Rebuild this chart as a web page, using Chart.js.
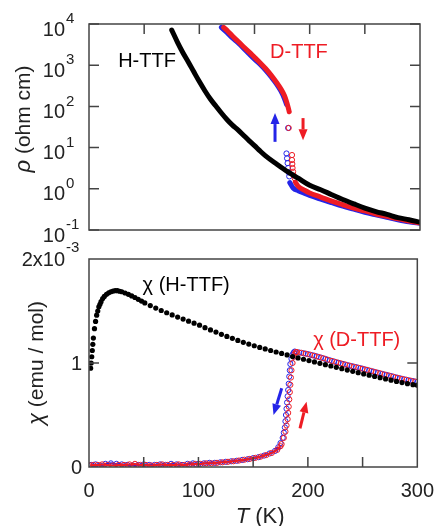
<!DOCTYPE html>
<html>
<head>
<meta charset="utf-8">
<script src="https://cdn.jsdelivr.net/npm/chart.js@4.4.1/dist/chart.umd.min.js"></script>
<style>
  body { margin: 0; background: #fff; }
  #wrap { position: relative; width: 438px; height: 526px; }
  #rhoBox { position: absolute; left: 0; top: 0; }
  #chiBox { position: absolute; left: 0; top: 240px; }
</style>
</head>
<body>
<div id="wrap">
  <div id="rhoBox"><canvas id="rhoChart" width="438" height="250"></canvas></div>
  <div id="chiBox"><canvas id="chiChart" width="438" height="286"></canvas></div>
</div>
<script>
const FONT = "'Liberation Sans', Arial, sans-serif";
const AXIS = "#444";
const TEXT = "#222";
const RED = "#ee1c24";
const BLUE = "#2424e8";

// ===== TICKS =====
const tempTicks = [0, 100, 200, 300];
const tempMinor = [50, 100, 150, 200, 250];
const rhoTicks = [0.1, 1, 10, 100, 1000, 10000];
const rhoTickExp = ["-1", "0", "1", "2", "3", "4"];
const chiTicks = [0, 1, 2];
const chiTickText = ["0", "1", "2x10"];

// ===== RESISTIVITY (ohm cm) =====
// H-TTF
const hT   = [75, 80, 85, 90, 95, 100, 105, 110, 115, 120, 125, 130, 135, 140, 145, 150, 155, 160, 170, 180, 190, 200, 210, 220, 230, 240, 250, 260, 270, 280, 290, 300];
const hRho = [7100, 3700, 2040, 1200, 690, 400, 240, 151, 102, 69, 48, 35, 27, 20, 14.8, 11.2, 8.3, 6.3, 4.0, 2.6, 1.78, 1.22, 0.95, 0.72, 0.55, 0.43, 0.34, 0.28, 0.24, 0.20, 0.178, 0.155];

// D-TTF heating (red)
const heatUpT    = [122, 126, 130, 135, 140, 145, 150, 155, 160, 165, 170, 174, 177, 179, 180.5, 181.5];
const heatUpRho  = [8300, 6600, 5100, 3800, 2800, 2100, 1550, 1150, 830, 575, 380, 263, 186, 132, 95, 74];
const heatJumpT   = [181, 184, 184, 184.3, 184.5, 185, 185.5, 186.5];
const heatJumpRho = [30, 6.6, 5.0, 4.0, 3.2, 2.6, 2.1, 1.8];
const heatLowT   = [187, 190, 195, 200, 210, 220, 230, 240, 250, 260, 270, 280, 290, 300];
const heatLowRho = [1.45, 1.12, 0.93, 0.79, 0.63, 0.50, 0.41, 0.34, 0.29, 0.245, 0.214, 0.186, 0.166, 0.148];

// D-TTF cooling (blue)
const coolUpT    = [120, 125, 130, 135, 140, 145, 150, 155, 160, 165, 170, 174, 177, 179];
const coolUpRho  = [8300, 6200, 4600, 3500, 2600, 1900, 1400, 1050, 760, 525, 350, 235, 158, 112];
const coolJumpT   = [180.5, 179, 179.5, 180, 180.5, 181, 181.5];
const coolJumpRho = [30, 7.2, 5.5, 4.2, 3.2, 2.5, 2.0];
const coolLowT   = [182, 185, 190, 195, 200, 210, 220, 230, 240, 250, 260, 270, 280, 290, 300];
const coolLowRho = [1.41, 1.05, 0.89, 0.78, 0.69, 0.56, 0.46, 0.38, 0.32, 0.27, 0.234, 0.204, 0.178, 0.158, 0.145];

// ===== SUSCEPTIBILITY (x 10^-3 emu/mol) =====
const chiHT = [1.5, 2, 2.5, 3, 3.5, 4, 5, 6, 7, 8, 9, 10, 11, 12.5, 14, 16, 18, 20, 22, 24, 26, 28, 30, 33, 36, 39, 42, 45, 48, 51,
  56, 61, 66, 71, 76, 81, 86, 91, 96, 101, 106, 111, 116, 121, 126, 131, 136, 141, 146, 151, 156, 161, 166, 171, 176, 181, 186, 191, 196,
  201, 206, 211, 216, 221, 226, 231, 236, 241, 246, 251, 256, 261, 266, 271, 276, 281, 286, 291, 296, 300];
const chiH = [0.95, 1.0, 1.06, 1.12, 1.18, 1.24, 1.33, 1.40, 1.46, 1.50, 1.54, 1.565, 1.59, 1.62, 1.64, 1.66, 1.675, 1.685, 1.692, 1.695, 1.695, 1.69, 1.685, 1.673, 1.66, 1.645, 1.63, 1.612, 1.595, 1.578,
  1.552, 1.528, 1.505, 1.483, 1.462, 1.442, 1.422, 1.402, 1.383, 1.364, 1.34, 1.318, 1.297, 1.276, 1.256, 1.237, 1.217, 1.199, 1.182, 1.166, 1.15, 1.135, 1.12, 1.106, 1.092, 1.078, 1.062, 1.049, 1.036,
  1.023, 1.010, 0.997, 0.984, 0.971, 0.958, 0.945, 0.932, 0.920, 0.907, 0.895, 0.883, 0.871, 0.859, 0.847, 0.835, 0.823, 0.812, 0.801, 0.792, 0.787];

// D-TTF cooling (blue): low-T branch, then transition + high-T
const chiCoolBaseT = [2, 6, 10, 15, 20, 25, 30, 35, 40, 45, 50, 55, 60, 65, 70, 75, 80, 85, 90, 95, 100, 105, 110, 115, 120, 125, 130, 135, 140, 145, 150, 155, 160, 165, 170, 173];
const chiCoolBase  = [0.02, 0.025, 0.015, 0.03, 0.035, 0.03, 0.025, 0.02, 0.015, 0.02, 0.025, 0.02, 0.02, 0.025, 0.02, 0.03, 0.025, 0.02, 0.03, 0.035, 0.03, 0.035, 0.04, 0.04, 0.045, 0.05, 0.055, 0.06, 0.068, 0.075, 0.085, 0.095, 0.11, 0.13, 0.155, 0.19];
const chiCoolT = [175, 177, 178, 179, 179.5, 180, 180.5, 181, 181.5, 182, 182.5, 183, 183.5, 184, 185, 186, 187, 188,
  192, 196, 200, 204, 208, 212, 216, 220, 224, 228, 232, 236, 240, 244, 248, 252, 256, 260, 264, 268, 272, 276, 280, 284, 288, 292, 296, 300];
const chiCool  = [0.23, 0.28, 0.33, 0.38, 0.44, 0.50, 0.56, 0.62, 0.68, 0.74, 0.80, 0.87, 0.93, 0.99, 1.04, 1.08, 1.10, 1.11,
  1.101, 1.094, 1.085, 1.075, 1.064, 1.052, 1.039, 1.026, 1.014, 1.002, 0.991, 0.980, 0.970, 0.960, 0.950, 0.939, 0.928, 0.917, 0.906, 0.895, 0.885, 0.874, 0.863, 0.853, 0.843, 0.834, 0.826, 0.818];

// D-TTF heating (red)
const chiHeatBaseT = [1, 4, 8, 12, 17, 22, 27, 32, 37, 42, 47, 52, 57, 62, 67, 72, 77, 82, 87, 92, 97, 102, 107, 112, 117, 122, 127, 132, 137, 142, 147, 152, 157, 162, 167, 172, 175];
const chiHeatBase  = [0.015, 0.02, 0.02, 0.025, 0.02, 0.015, 0.02, 0.02, 0.025, 0.03, 0.02, 0.02, 0.015, 0.02, 0.025, 0.02, 0.02, 0.025, 0.02, 0.025, 0.03, 0.03, 0.035, 0.035, 0.04, 0.045, 0.05, 0.055, 0.062, 0.07, 0.078, 0.088, 0.1, 0.115, 0.135, 0.165, 0.2];
const chiHeatT = [176, 178, 179.5, 180.5, 181.5, 182, 182.5, 183, 183.5, 184, 184.5, 185, 186, 187, 188, 189,
  190, 194, 198, 202, 206, 210, 214, 218, 222, 226, 230, 234, 238, 242, 246, 250, 254, 258, 262, 266, 270, 274, 278, 282, 286, 290, 294, 298];
const chiHeat  = [0.22, 0.28, 0.34, 0.40, 0.46, 0.52, 0.58, 0.65, 0.72, 0.79, 0.86, 0.93, 1.0, 1.06, 1.09, 1.105,
  1.105, 1.098, 1.09, 1.08, 1.07, 1.058, 1.046, 1.032, 1.02, 1.008, 0.997, 0.986, 0.975, 0.965, 0.955, 0.945, 0.934, 0.923, 0.912, 0.901, 0.89, 0.88, 0.869, 0.858, 0.848, 0.839, 0.83, 0.822];

function pair(xs, ys) { return xs.map((x, i) => ({ x: x, y: ys[i] })); }

function lineSet(xs, ys, color, width) {
  return { data: pair(xs, ys), showLine: true, borderColor: color, borderWidth: width, borderCapStyle: "round",
           pointRadius: 0, cubicInterpolationMode: "monotone" };
}
function ringSet(xs, ys, color, withLine) {
  return { data: pair(xs, ys), showLine: !!withLine, borderColor: color, borderWidth: 2, pointRadius: 2.6, pointBorderWidth: 1,
           pointBorderColor: color, pointBackgroundColor: "rgba(0,0,0,0)", cubicInterpolationMode: "monotone" };
}

// frame, inward ticks, tick labels, titles, notes, arrows
const panelDeco = {
  id: "panelDeco",
  afterDatasetsDraw(chart, args, o) {
    const { ctx, chartArea: a, scales } = chart;
    const xs = scales.x, ys = scales.y;
    ctx.save();
    ctx.strokeStyle = AXIS;
    ctx.lineWidth = 1.5;
    ctx.strokeRect(a.left, a.top, a.right - a.left, a.bottom - a.top);
    ctx.beginPath();
    o.yMarks.forEach(v => {
      const y = ys.getPixelForValue(v);
      ctx.moveTo(a.left, y); ctx.lineTo(a.left + 10, y);
      ctx.moveTo(a.right, y); ctx.lineTo(a.right - 10, y);
    });
    const edge = o.xSide === "top" ? a.top : a.bottom;
    const dir = o.xSide === "top" ? 1 : -1;
    o.xMarks.forEach(v => {
      const x = xs.getPixelForValue(v);
      ctx.moveTo(x, edge); ctx.lineTo(x, edge + dir * 10);
    });
    ctx.stroke();

    // y tick labels
    ctx.fillStyle = TEXT;
    ctx.textBaseline = "middle";
    o.yLabels.forEach(l => {
      const y = ys.getPixelForValue(l.v);
      ctx.font = "20px " + FONT;
      if (l.sup) {
        ctx.textAlign = "right";
        ctx.fillText(l.base, a.left - 24, y + o.baseDy);
        ctx.textAlign = "left";
        ctx.font = "15px " + FONT;
        ctx.fillText(l.sup, a.left - 23, y + o.supDy);
      } else {
        ctx.textAlign = "right";
        ctx.fillText(l.base, a.left - 7, y + 1);
      }
    });

    // y title (greek italic)
    ctx.save();
    ctx.translate(o.yTitle.x, (a.top + a.bottom) / 2 + o.yTitle.dy);
    ctx.rotate(-Math.PI / 2);
    ctx.font = "italic 22px " + FONT;
    const w1 = ctx.measureText(o.yTitle.sym).width;
    ctx.font = "21px " + FONT;
    const w2 = ctx.measureText(o.yTitle.rest).width;
    ctx.textAlign = "left";
    ctx.font = "italic 22px " + FONT;
    ctx.fillText(o.yTitle.sym, -(w1 + w2) / 2, 0);
    ctx.font = "21px " + FONT;
    ctx.fillText(o.yTitle.rest, -(w1 + w2) / 2 + w1, 0);
    ctx.restore();

    // x title
    if (o.xTitle) {
      ctx.font = "italic 22px " + FONT;
      const t1 = ctx.measureText("T").width;
      ctx.font = "22px " + FONT;
      const t2 = ctx.measureText(" (K)").width;
      const cx = (a.left + a.right) / 2 + 7;
      const ty = a.bottom + 50;
      ctx.textAlign = "left";
      ctx.font = "italic 22px " + FONT;
      ctx.fillText("T", cx - (t1 + t2) / 2, ty);
      ctx.font = "22px " + FONT;
      ctx.fillText(" (K)", cx - (t1 + t2) / 2 + t1, ty);
    }

    // notes
    o.notes.forEach(n => {
      ctx.font = "20px " + FONT;
      ctx.fillStyle = n.color;
      ctx.textAlign = n.align;
      ctx.fillText(n.text, xs.getPixelForValue(n.x), ys.getPixelForValue(n.y));
    });

    // arrows
    o.arrows.forEach(r => {
      const x0 = xs.getPixelForValue(r.from[0]), y0 = ys.getPixelForValue(r.from[1]);
      const x1 = xs.getPixelForValue(r.to[0]), y1 = ys.getPixelForValue(r.to[1]);
      const ang = Math.atan2(y1 - y0, x1 - x0);
      const hl = 11, hw = 4.5;
      const bx = x1 - hl * Math.cos(ang), by = y1 - hl * Math.sin(ang);
      ctx.strokeStyle = r.color;
      ctx.fillStyle = r.color;
      ctx.lineWidth = 3;
      ctx.beginPath(); ctx.moveTo(x0, y0); ctx.lineTo(bx, by); ctx.stroke();
      ctx.beginPath();
      ctx.moveTo(x1, y1);
      ctx.lineTo(bx + hw * Math.sin(ang), by - hw * Math.cos(ang));
      ctx.lineTo(bx - hw * Math.sin(ang), by + hw * Math.cos(ang));
      ctx.closePath(); ctx.fill();
    });
    ctx.restore();
  }
};

// ===== TOP: RESISTIVITY =====
new Chart(document.getElementById("rhoChart"), {
  type: "scatter",
  data: {
    datasets: [
      lineSet(hT, hRho, "#000", 5),
      lineSet(heatUpT, heatUpRho, RED, 5),
      ringSet(heatJumpT, heatJumpRho, RED),
      lineSet(heatLowT, heatLowRho, RED, 5),
      lineSet(coolUpT, coolUpRho, BLUE, 5),
      ringSet(coolJumpT, coolJumpRho, BLUE),
      lineSet(coolLowT, coolLowRho, BLUE, 5)
    ]
  },
  options: {
    responsive: false,
    animation: false,
    events: [],
    layout: { padding: { left: 89, right: 18, top: 24, bottom: 20 } },
    scales: {
      x: { display: false, min: 0, max: 300 },
      y: { display: false, type: "logarithmic", min: 0.1, max: 10000 }
    },
    plugins: {
      legend: { display: false },
      tooltip: { enabled: false },
      panelDeco: {
        xSide: "top",
        xMarks: tempMinor,
        yMarks: rhoTicks,
        baseDy: 6, supDy: -5,
        yLabels: rhoTicks.map((v, i) => ({ v: v, base: "10", sup: rhoTickExp[i] })),
        yTitle: { x: 24, dy: -8, sym: "ρ", rest: " (ohm cm)" },
        notes: [
          { text: "H-TTF", x: 52.6, y: 1200, color: "#000", align: "center" },
          { text: "D-TTF", x: 190.3, y: 2000, color: RED, align: "center" }
        ],
        arrows: [
          { from: [168.6, 13.8], to: [168.6, 69], color: BLUE },
          { from: [194, 52], to: [194, 15], color: RED }
        ]
      }
    }
  },
  plugins: [panelDeco]
});

// ===== BOTTOM: SUSCEPTIBILITY =====
new Chart(document.getElementById("chiChart"), {
  type: "scatter",
  data: {
    datasets: [
      { data: pair(chiHT, chiH), showLine: false, pointRadius: 2.6, pointBorderWidth: 0, pointBackgroundColor: "#000" },
      ringSet(chiHeatBaseT, chiHeatBase, RED, true),
      ringSet(chiHeatT, chiHeat, RED),
      ringSet(chiCoolBaseT, chiCoolBase, BLUE, true),
      ringSet(chiCoolT, chiCool, BLUE)
    ]
  },
  options: {
    responsive: false,
    animation: false,
    events: [],
    layout: { padding: { left: 89, right: 18, top: 19, bottom: 0 } },
    scales: {
      x: {
        min: 0, max: 300,
        afterBuildTicks: s => { s.ticks = tempTicks.map(v => ({ value: v })); },
        afterFit: s => { s.height = 59; },
        grid: { display: false },
        border: { display: false },
        ticks: { color: TEXT, font: { family: FONT, size: 20 }, padding: 4, maxRotation: 0 }
      },
      y: { display: false, min: 0, max: 2 }
    },
    plugins: {
      legend: { display: false },
      tooltip: { enabled: false },
      panelDeco: {
        xSide: "bottom",
        xMarks: tempMinor,
        yMarks: [1],
        baseDy: 1, supDy: -11,
        yLabels: chiTicks.map((v, i) => (i === 2 ? { v: v, base: chiTickText[i], sup: "-3" } : { v: v, base: chiTickText[i] })),
        yTitle: { x: 37, dy: 0, sym: "χ", rest: " (emu / mol)" },
        xTitle: true,
        notes: [
          { text: "χ (H-TTF)", x: 49, y: 1.75, color: "#000", align: "left" },
          { text: "χ (D-TTF)", x: 204.8, y: 1.22, color: RED, align: "left" }
        ],
        arrows: [
          { from: [176.1, 0.757], to: [168.6, 0.50], color: BLUE },
          { from: [192.8, 0.372], to: [198.8, 0.628], color: RED }
        ]
      }
    }
  },
  plugins: [panelDeco]
});
</script>
</body>
</html>
